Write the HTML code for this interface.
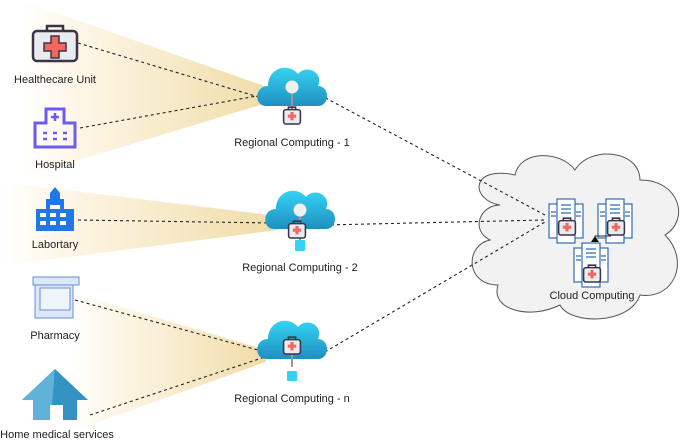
<!DOCTYPE html>
<html><head><meta charset="utf-8"><style>
html,body{margin:0;padding:0;background:#fff;}
svg{display:block;font-family:"Liberation Sans",sans-serif;}
</style></head><body>
<svg width="685" height="447" viewBox="0 0 685 447" xmlns="http://www.w3.org/2000/svg">
<defs>
<linearGradient id="beam" x1="0" x2="1" y1="0" y2="0">
<stop offset="0" stop-color="#fff"/><stop offset="0.25" stop-color="#fdf6e6"/><stop offset="1" stop-color="#f1dca8"/>
</linearGradient>
<linearGradient id="cl" x1="0" x2="0" y1="0" y2="1">
<stop offset="0" stop-color="#35d3f3"/><stop offset="1" stop-color="#1f8fc0"/>
</linearGradient>
<g id="kit">
<rect x="-7" y="-7" width="14" height="12" rx="2" fill="#e8ecef" stroke="#3c3346" stroke-width="1.3"/>
<path d="M-3,-7 v-2 h6 v2" fill="none" stroke="#3c3346" stroke-width="1.3"/>
<path d="M-1.3,-5 h2.6 v2.2 h2.2 v2.6 h-2.2 v2.2 h-2.6 v-2.2 h-2.2 v-2.6 h2.2z" fill="#f2675f"/>
</g>
<path id="cloud" d="M-26,16 C-38,16 -38,-4 -24,-4 C-24,-22 -4,-28 6,-16 C14,-26 32,-18 26,-4 C38,-4 38,16 26,16 Z" fill="url(#cl)"/>
<g id="doc">
<rect x="-17" y="-14" width="34" height="34" fill="#fff" stroke="#2f6db5" stroke-width="1.2"/>
<rect x="-9" y="-19" width="18" height="44" fill="#fff" stroke="#2f6db5" stroke-width="1.2"/>
<path d="M-5,-13h10M-5,-9h10M-5,-5h10M-15,-6h5M-15,-2h5M10,-6h5M10,-2h5" stroke="#2f6db5" stroke-width="1.3"/>
</g>
</defs>
<polygon points="20,0 270,88 270,102 20,178" fill="url(#beam)"/>
<polygon points="0,182 278,216 278,230 0,266" fill="url(#beam)"/>
<polygon points="70,292 266,350 266,362 70,432" fill="url(#beam)"/>
<path d="M500,205 C470,200 470,165 515,175 C520,150 560,150 575,170 C590,145 640,150 640,180 C680,180 690,220 665,235 C690,260 675,300 640,295 C630,325 570,325 560,305 C530,320 490,310 498,285 C465,285 465,245 490,240 C470,230 480,205 500,205Z" fill="#f2f2f2" stroke="#555" stroke-width="1"/>
<g stroke="#222" stroke-width="1.1" stroke-dasharray="3,3" fill="none">
<line x1="78" y1="43" x2="262" y2="98"/>
<line x1="80" y1="128" x2="262" y2="95"/>
<line x1="78" y1="220" x2="272" y2="223"/>
<line x1="75" y1="300" x2="265" y2="352"/>
<line x1="90" y1="415" x2="265" y2="357"/>
<line x1="320" y1="95" x2="545" y2="215"/>
<line x1="325" y1="225" x2="545" y2="220"/>
<line x1="325" y1="352" x2="545" y2="222"/>
</g>
<g transform="translate(292,90)"><use href="#cloud"/><line x1="0" y1="-3" x2="0" y2="20" stroke="#999" stroke-width="2"/><circle cx="0" cy="-3" r="6.5" fill="#f0f0f0"/><use href="#kit" transform="translate(0,28) scale(1.2)"/></g>
<g transform="translate(300,213)"><use href="#cloud"/><line x1="0" y1="-3" x2="0" y2="30" stroke="#999" stroke-width="2"/><circle cx="0" cy="-3" r="6.5" fill="#f0f0f0"/><use href="#kit" transform="translate(-3,19) scale(1.2)"/><rect x="-5" y="27" width="10" height="11" rx="1" fill="#35d3f3"/></g>
<g transform="translate(292,343)"><use href="#cloud"/><line x1="0" y1="2" x2="0" y2="24" stroke="#999" stroke-width="2"/><use href="#kit" transform="translate(0,5) scale(1.2)"/><rect x="-5" y="28" width="10" height="10" rx="1" fill="#35d3f3"/></g>
<g font-size="11" fill="#222" text-anchor="middle">
<text x="292" y="146">Regional Computing - 1</text>
<text x="300" y="271">Regional Computing - 2</text>
<text x="292" y="402">Regional Computing - n</text>
<text x="55" y="83">Healthecare Unit</text>
<text x="55" y="168">Hospital</text>
<text x="55" y="248">Labortary</text>
<text x="55" y="339">Pharmacy</text>
<text x="57" y="438">Home medical services</text>
<text x="592" y="299">Cloud Computing</text>
</g>
<use href="#doc" transform="translate(566,218)"/>
<use href="#doc" transform="translate(615,218)"/>
<use href="#doc" transform="translate(591,262)"/>
<use href="#kit" transform="translate(567,229) scale(1.2)"/>
<use href="#kit" transform="translate(616,229) scale(1.2)"/>
<use href="#kit" transform="translate(592,276) scale(1.2)"/>
<path d="M611,236 h-16 v4" fill="none" stroke="#222" stroke-width="1"/><polygon points="595,236 591,242 599,242" fill="#111"/>
<g transform="translate(55,43)">
<path d="M-8,-12 v-5 h16 v5" fill="none" stroke="#3c3346" stroke-width="2.5"/>
<rect x="-22" y="-12" width="44" height="30" rx="4" fill="#e8ecef" stroke="#3c3346" stroke-width="2.5"/>
<path d="M-4,-7 h8 v7 h7 v8 h-7 v7 h-8 v-7 h-7 v-8 h7z" fill="#f2675f" stroke="#3c3346" stroke-width="1.5"/>
</g>
<g transform="translate(55,128)" fill="none" stroke="#6b5cf0" stroke-width="3">
<path d="M-20,19 v-24 h11 v-14 h18 v14 h11 v24 z"/>
<path d="M0,-15 v8 M-4,-11 h8" stroke-width="2.5"/>
<path d="M-12,5 h4 M-2,5 h4 M8,5 h4 M-12,11 h4 M-2,11 h4 M8,11 h4" stroke-width="2.5"/>
</g>
<g transform="translate(55,215)">
<path d="M-19,16 v-22 h10 v-10 h4 v-6 l5,-6 l5,6 v6 h4 v10 h10 v22 z" fill="#1f77e8"/>
<g fill="#fff"><rect x="-15" y="-2" width="6" height="4"/><rect x="-5" y="-2" width="6" height="4"/><rect x="5" y="-2" width="6" height="4"/><rect x="-15" y="6" width="6" height="4"/><rect x="-5" y="6" width="6" height="4"/><rect x="5" y="6" width="6" height="4"/><rect x="-5" y="-10" width="10" height="4"/></g>
</g>
<g transform="translate(55,300)">
<rect x="-22" y="-23" width="46" height="8" fill="#dbe7fb" stroke="#6a8fd0"/>
<rect x="-20" y="-15" width="38" height="33" fill="#dbe7fb" stroke="#6a8fd0"/>
<rect x="-15" y="-12" width="30" height="22" fill="#eef3fc" stroke="#6a8fd0"/>
</g>
<g transform="translate(55,395)">
<polygon points="0,-26 33,5 22,5 22,25 -22,25 -22,5 -33,5" fill="#3593c4"/>
<polygon points="0,-26 -33,5 -22,5 -22,25 -5,25 -5,10 -3,10" fill="#5fb2d8"/>
<rect x="-5" y="10" width="13" height="15" fill="#fff"/>
</g>
</svg>
</body></html>
